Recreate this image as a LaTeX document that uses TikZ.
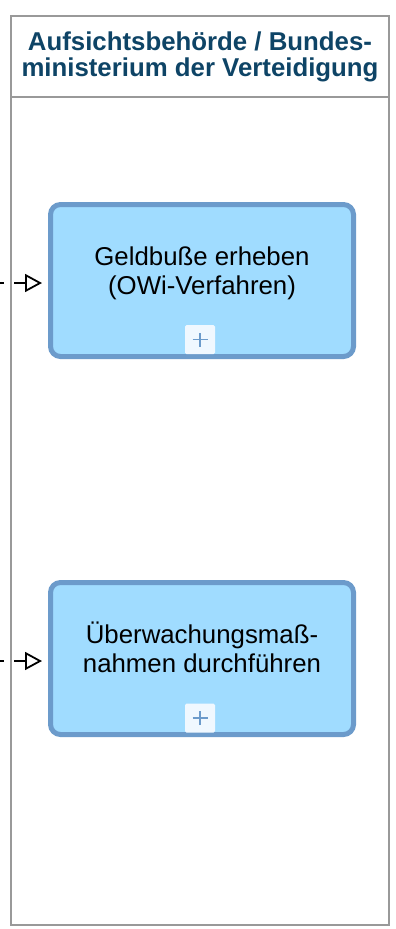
\documentclass[tikz,border=0pt]{standalone}
\usepackage{fontspec}
\setmainfont{Liberation Sans}
\usetikzlibrary{arrows.meta}
\definecolor{laneline}{HTML}{999999}
\definecolor{headtext}{HTML}{0E4466}
\definecolor{taskfill}{HTML}{A0DCFF}
\definecolor{taskline}{HTML}{6C9BCB}
\definecolor{markerfill}{HTML}{F0F8FF}
\tikzset{
  lane/.style={draw=laneline, line width=2pt},
  task/.style={draw=taskline, fill=taskfill, line width=5pt, rounded corners=10pt,
    minimum width=303pt, minimum height=152pt, inner sep=0pt},
  tasklabel/.style={align=center, inner sep=0pt, font=\fontsize{25.8pt}{28.8pt}\selectfont},
  headlabel/.style={align=center, inner sep=0pt, text=headtext,
    font=\fontsize{25.8pt}{26pt}\selectfont\bfseries},
  submarker/.style={fill=markerfill, rounded corners=1.5pt, minimum width=30pt,
    minimum height=29pt, inner sep=0pt},
  plussign/.style={draw=taskline, line width=1.8pt},
  flow/.style={draw=black, line width=1.5pt, dash pattern=on 11pt off 10pt,
    -{Triangle[open, length=17pt, width=18pt, line width=1.8pt]}, shorten >=6pt}
}
\begin{document}
\begin{tikzpicture}[x=1pt, y=-1pt]
  \useasboundingbox (0,0) rectangle (396,929);
  % swimlane with header
  \draw[lane] (11,16) rectangle (389,925);
  \draw[lane] (11,97) -- (389,97);
  \node[headlabel, anchor=base] (head) at (200,76.5)
    {Aufsichtsbehörde / Bundes-\\ministerium der Verteidigung};

  % first sub-process
  \node[task] (geld) at (202,280.5) {};
  \node[tasklabel, anchor=base] (geldtext) at (202,294)
    {Geldbuße erheben\\(OWi-Verfahren)};
  \node[submarker] (geldmark) at (200,339.5) {};
  \draw[plussign] ([xshift=-7.5pt]geldmark.center) -- ([xshift=7.5pt]geldmark.center);
  \draw[plussign] ([yshift=-7pt]geldmark.center) -- ([yshift=7pt]geldmark.center);

  % second sub-process
  \node[task] (ueber) at (202,658.5) {};
  \node[tasklabel, anchor=base] (uebertext) at (202,672)
    {Überwachungsmaß-\\nahmen durchführen};
  \node[submarker] (uebermark) at (200,718) {};
  \draw[plussign] ([xshift=-7.5pt]uebermark.center) -- ([xshift=7.5pt]uebermark.center);
  \draw[plussign] ([yshift=-7pt]uebermark.center) -- ([yshift=7pt]uebermark.center);

  % incoming message flows
  \coordinate (in1) at (-28,283);
  \coordinate (in2) at (-28,661);
  \draw[flow] (in1) -- (in1 -| geld.west);
  \draw[flow] (in2) -- (in2 -| ueber.west);
\end{tikzpicture}
\end{document}
